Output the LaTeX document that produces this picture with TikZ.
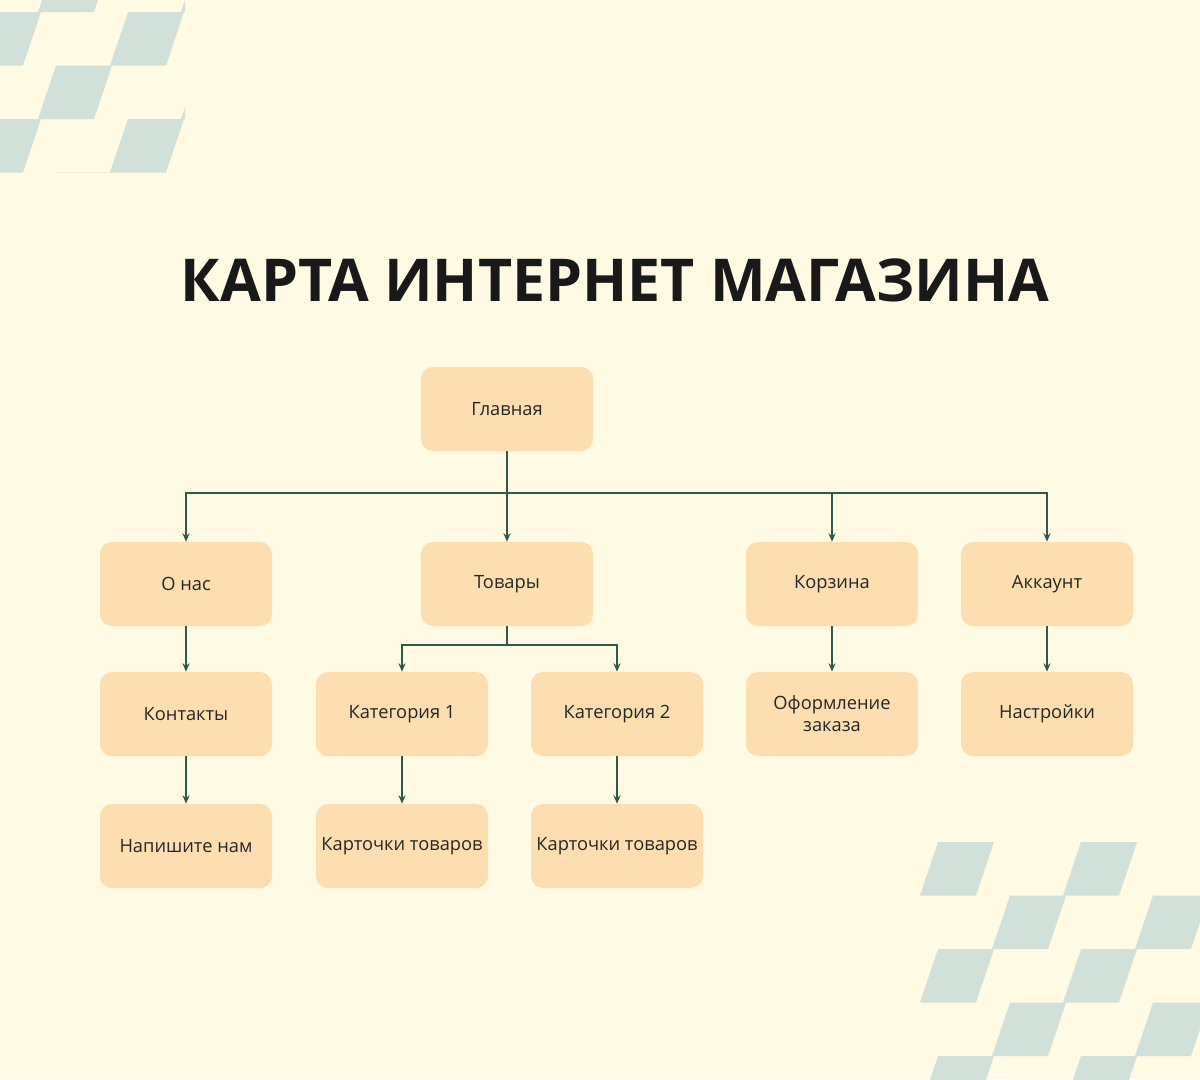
\documentclass[tikz,border=0pt]{standalone}
\usepackage{fontspec}
\setmainfont{Open Sans}
\usetikzlibrary{arrows.meta}
\definecolor{paper}{HTML}{FEFAE3}
\definecolor{tile}{HTML}{D1E0D9}
\definecolor{boxfill}{HTML}{FCDEB0}
\definecolor{wire}{HTML}{2F5A4C}
\tikzset{
  page/.style={x=0.025cm, y=-0.025cm},
  box/.style={fill=boxfill, rounded corners=12*0.025cm, minimum width=172*0.025cm,
    minimum height=84*0.025cm, inner xsep=1pt, align=center,
    font=\fontsize{13}{15.5}\selectfont, text=black!85},
  link/.style={draw=wire, line width=1.4pt},
  arr/.style={link, -{Stealth[length=6pt,width=5pt]}},
  face/.style={fill=tile, draw=none}
}
\newcommand{\rhomb}[2]{\path[face] (#1,#2) -- ++(56,0) -- ++(-18,53.5) -- ++(-56,0) -- cycle;}
\begin{document}
\begin{tikzpicture}[page]
  \fill[paper] (0,0) rectangle (1200,1079);
  \useasboundingbox (0,0) rectangle (1200,1079);

  % corner tiles
  \begin{scope}
    \clip (0,0) rectangle (185,172);
    \foreach \r in {-1,0,1,2,3} {
      \pgfmathsetmacro{\yy}{12+53.5*\r}
      \pgfmathsetmacro{\shift}{mod(\r+4,2)==0 ? -15 : 56}
      \foreach \k in {0,1} {\rhomb{\shift+143*\k}{\yy}}
    }
  \end{scope}
  \begin{scope}
    \clip (920,840) rectangle (1200,1079);
    \foreach \r in {0,...,4} {
      \pgfmathsetmacro{\yy}{842+53.5*\r}
      \pgfmathsetmacro{\shift}{mod(\r,2)==0 ? 938 : 1010}
      \foreach \k in {0,1} {\rhomb{\shift+143*\k}{\yy}}
    }
  \end{scope}

  \node[font=\fontsize{42}{46}\selectfont\bfseries, text=black!90] (title) at (615,280) {КАРТА ИНТЕРНЕТ МАГАЗИНА};

  % boxes
  \node[box] (glav) at (507,409) {Главная};
  \node[box] (onas) at (186,584) {О нас};
  \node[box] (tovar) at (507,584) {Товары};
  \node[box] (korz) at (832,584) {Корзина};
  \node[box] (akk) at (1047,584) {Аккаунт};
  \node[box] (kont) at (186,714) {Контакты};
  \node[box] (kat1) at (402,714) {Категория 1};
  \node[box] (kat2) at (617,714) {Категория 2};
  \node[box] (oform) at (832,714) {Оформление\\заказа};
  \node[box] (nastr) at (1047,714) {Настройки};
  \node[box] (nap) at (186,846) {Напишите нам};
  \node[box] (kart1) at (402,846) {Карточки товаров};
  \node[box] (kart2) at (617,846) {Карточки товаров};

  % connectors
  \coordinate (bus) at (507,493);
  \coordinate (subbus) at (507,645);
  \draw[link] (glav.south) -- (bus);
  \foreach \t in {onas,tovar,korz,akk} \draw[arr] (bus) -| (\t.north);
  \draw[link] (tovar.south) -- (subbus);
  \foreach \t in {kat1,kat2} \draw[arr] (subbus) -| (\t.north);
  \draw[arr] (onas) -- (kont);
  \draw[arr] (kont) -- (nap);
  \draw[arr] (kat1) -- (kart1);
  \draw[arr] (kat2) -- (kart2);
  \draw[arr] (korz) -- (oform);
  \draw[arr] (akk) -- (nastr);
\end{tikzpicture}
\end{document}
